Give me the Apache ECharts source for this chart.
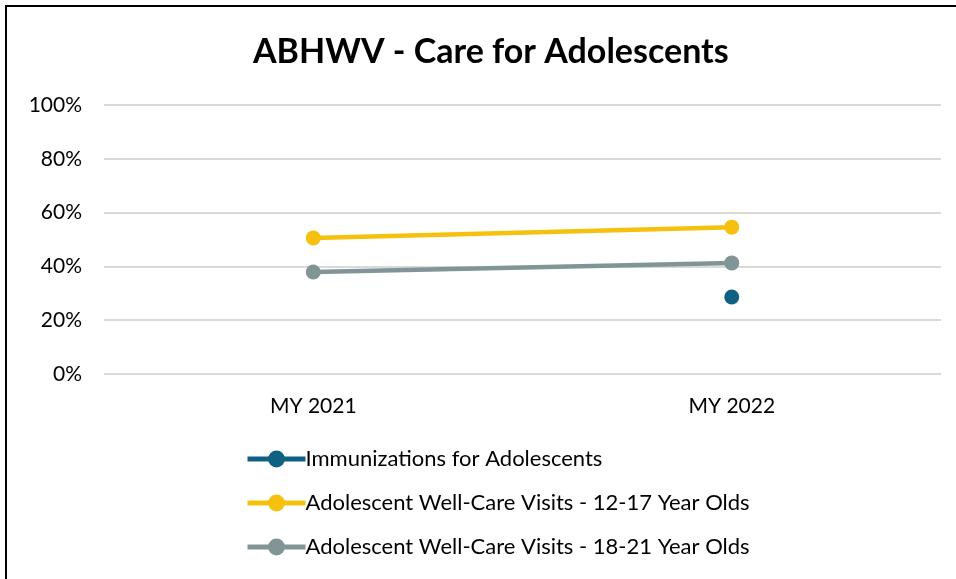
<!DOCTYPE html>
<html><head><meta charset="utf-8">
<script src="https://cdn.jsdelivr.net/npm/echarts@6/dist/echarts.min.js"></script>
<style>html,body{margin:0;padding:0;background:#fff}#c{width:956px;height:579px}</style>
</head><body><div id="c"></div>
<script>
const categories = ['MY 2021', 'MY 2022'];
const immunizations = [null, 28.6];
const wcv1217 = [50.6, 54.6];
const wcv1821 = [37.9, 41.3];
const yTicks = [0, 20, 40, 60, 80, 100];

const font = 'Lato, "Open Sans", sans-serif';
const chart = echarts.init(document.getElementById('c'), null, {renderer: 'canvas'});
const mk = (name, data, color) => ({
  name, type: 'line', data, color,
  symbol: 'circle', symbolSize: 15,
  lineStyle: {width: 4.5, color},
  itemStyle: {color},
  connectNulls: false, animation: false
});
chart.setOption({
  animation: false,
  title: {
    text: 'ABHWV - Care for Adolescents', left: 248, top: 30,
    textStyle: {fontFamily: font, fontSize: 34, fontWeight: 'bold', color: '#000'}
  },
  grid: {left: 104, right: 15, top: 105, bottom: 205},
  xAxis: {
    type: 'category', data: categories, boundaryGap: true,
    axisLine: {show: false}, axisTick: {show: false},
    axisLabel: {fontFamily: font, fontSize: 21, color: '#000', margin: 22}
  },
  yAxis: {
    type: 'value', min: yTicks[0], max: yTicks[yTicks.length - 1], interval: 20,
    axisLine: {show: false}, axisTick: {show: false},
    axisLabel: {fontFamily: font, fontSize: 21, color: '#000', margin: 22, formatter: v => v + '%'},
    splitLine: {lineStyle: {color: '#d9d9d9', width: 2}}
  },
  legend: {
    orient: 'vertical', left: 240, top: 443, itemGap: 22,
    itemWidth: 58, itemHeight: 21,
    lineStyle: {width: 5},
    textStyle: {fontFamily: font, fontSize: 22, color: '#000', padding: [0, 0, 0, -5]},
    data: ['Immunizations for Adolescents', 'Adolescent Well-Care Visits - 12-17 Year Olds', 'Adolescent Well-Care Visits - 18-21 Year Olds']
  },
  graphic: [{
    type: 'rect', shape: {x: 6, y: 6, width: 960, height: 600},
    style: {fill: 'none', stroke: '#000', lineWidth: 2}, silent: true
  }],
  series: [
    mk('Immunizations for Adolescents', immunizations, '#0f6184'),
    mk('Adolescent Well-Care Visits - 12-17 Year Olds', wcv1217, '#f6c10e'),
    mk('Adolescent Well-Care Visits - 18-21 Year Olds', wcv1821, '#819597')
  ]
});
</script></body></html>
